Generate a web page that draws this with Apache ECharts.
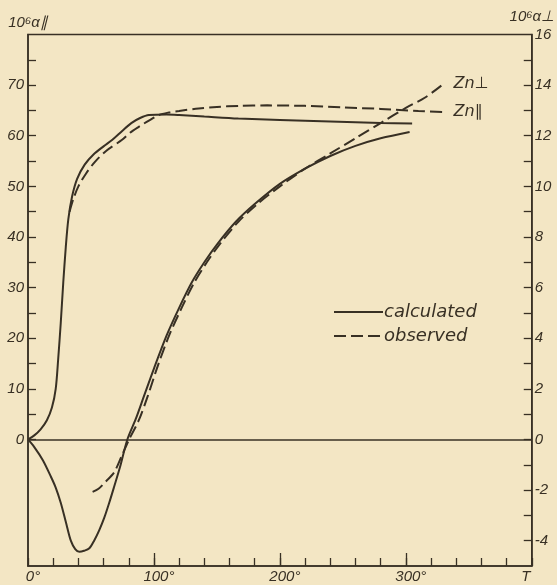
<!DOCTYPE html>
<html>
<head>
<meta charset="utf-8">
<script src="https://cdn.jsdelivr.net/npm/echarts@6/dist/echarts.min.js"></script>
<style>
html,body{margin:0;padding:0;background:#f3e6c4;}
#chart{width:557px;height:585px;}
</style>
</head>
<body>
<div id="chart"></div>
<script>
// Temperature T (degrees) and values
const parCalcT = [0, 5, 10, 15, 19, 22, 24, 26, 28, 30, 32, 35, 39, 45, 52, 60, 67, 75, 82, 89, 96, 110, 120, 140, 167, 200, 240, 280, 305];
const parCalcV = [0, 0.8, 2.0, 3.8, 6.3, 10, 16, 23, 31, 38, 43.5, 48, 51.5, 54.3, 56.3, 57.9, 59.2, 61, 62.5, 63.5, 64.1, 64.2, 64.1, 63.8, 63.4, 63.1, 62.8, 62.5, 62.4];

const parObsT = [33, 36, 40, 46, 53, 62, 74.7, 81, 88.2, 96, 104, 112, 120, 135.5, 150, 167, 190, 220, 250, 280, 310, 330];
const parObsV = [45, 47.5, 50, 52.5, 54.8, 57, 59.2, 60.6, 61.8, 63, 64.1, 64.6, 64.9, 65.4, 65.7, 65.9, 66.0, 65.9, 65.6, 65.3, 64.9, 64.7];

const perpCalcT = [0, 5, 11.8, 18, 22, 26, 30, 34, 37.5, 40.8, 44.5, 48.7, 52.5, 56.6, 60.5, 64.5, 68.5, 73, 78.9, 85.5, 92, 100, 110, 120, 130, 140, 150, 165, 180, 200, 220, 240, 260, 280, 303];
const perpCalcV = [0, -0.3, -0.82, -1.45, -1.9, -2.5, -3.25, -4.0, -4.33, -4.44, -4.4, -4.3, -4.0, -3.58, -3.1, -2.5, -1.85, -1.1, 0, 0.8, 1.7, 2.8, 4.1, 5.2, 6.2, 7.0, 7.7, 8.6, 9.3, 10.1, 10.7, 11.2, 11.6, 11.9, 12.15];

const perpObsT = [51.3, 56, 62, 68.4, 74, 80.3, 88, 95, 103, 112, 122, 132, 142, 152, 167, 182, 200, 220, 240, 260, 280, 300, 315, 330];
const perpObsV = [-2.07, -1.95, -1.65, -1.3, -0.7, 0, 0.76, 1.7, 2.9, 4.1, 5.2, 6.2, 7.0, 7.7, 8.6, 9.3, 10.0, 10.7, 11.3, 11.9, 12.5, 13.1, 13.5, 14.05];

const xLabelValues = [0, 100, 200, 300, 400];
const xMajorTicks = [100, 200, 300];
const leftLabelValues = [0, 10, 20, 30, 40, 50, 60, 70];
const leftTickValues = [0, 5, 10, 15, 20, 25, 30, 35, 40, 45, 50, 55, 60, 65, 70, 75];
const rightLabelValues = [-4, -2, 0, 2, 4, 6, 8, 10, 12, 14, 16];
const rightTickValues = [-4, -3, -2, -1, 0, 1, 2, 3, 4, 5, 6, 7, 8, 9, 10, 11, 12, 13, 14, 15];

const INK = '#383024';
const FONT = 'Liberation Sans';
const FONT2 = 'DejaVu Sans';
const zip = (a, b) => a.map((t, i) => [t, b[i]]);

const chart = echarts.init(document.getElementById('chart'), null, {renderer: 'canvas'});
const labelStyle = {color: INK, fontStyle: 'italic', fontFamily: FONT, fontSize: 15};
const richBase = {color: INK, fontStyle: 'italic', fontFamily: FONT, fontSize: 15};

chart.setOption({
  animation: false,
  backgroundColor: '#f3e6c4',
  grid: {left: 28, right: 22, top: 34.5, bottom: 19, show: true, borderColor: INK, borderWidth: 1.5, backgroundColor: 'transparent'},
  legend: {
    data: ['calculated', 'observed'],
    orient: 'vertical', left: 333, top: 303, itemWidth: 49, itemHeight: 14, itemGap: 6, padding: 0,
    itemStyle: {color: 'transparent', borderWidth: 0, opacity: 0},
    textStyle: {color: INK, fontStyle: 'italic', fontFamily: FONT2, fontSize: 18, lineHeight: 18, padding: [0, 0, 0, -4]}
  },
  xAxis: [{
    type: 'value', min: 0, max: 400, interval: 20, position: 'bottom',
    axisLine: {show: true, onZero: false, lineStyle: {color: INK, width: 1.5}},
    axisTick: {show: true, inside: true, length: 8, lineStyle: {color: INK, width: 1.3}},
    axisLabel: {
      customValues: xLabelValues, margin: 3,
      formatter: v => v === 400 ? '{t|T}' : '{d|' + v + '°}',
      rich: {d: Object.assign({padding: [0, 0, 0, 10]}, richBase), t: Object.assign({padding: [0, 12, 0, 0]}, richBase)}
    },
    splitLine: {show: false}
  }, {
    type: 'value', min: 0, max: 400, position: 'bottom',
    axisLine: {show: false, onZero: false},
    axisTick: {show: true, inside: true, length: 13, customValues: xMajorTicks, lineStyle: {color: INK, width: 1.3}},
    axisLabel: {show: false},
    splitLine: {show: false}
  }],
  yAxis: [{
    type: 'value', min: -25, max: 80, interval: 5, position: 'left',
    name: '10⁶α∥', nameLocation: 'end', nameGap: 4,
    nameTextStyle: {color: INK, fontStyle: 'italic', fontFamily: FONT, fontSize: 15},
    axisLine: {show: true, onZero: false, lineStyle: {color: INK, width: 1.5}},
    axisTick: {show: true, inside: true, length: 8, customValues: leftTickValues, lineStyle: {color: INK, width: 1.3}},
    axisLabel: Object.assign({customValues: leftLabelValues, margin: 4}, labelStyle),
    splitLine: {show: false}
  }, {
    type: 'value', min: -5, max: 16, interval: 1, position: 'right',
    name: '10⁶α⊥', nameLocation: 'end', nameGap: 10,
    nameTextStyle: {color: INK, fontStyle: 'italic', fontFamily: FONT, fontSize: 15},
    axisLine: {show: true, onZero: false, lineStyle: {color: INK, width: 1.5}},
    axisTick: {show: true, inside: true, length: 8, customValues: rightTickValues, lineStyle: {color: INK, width: 1.3}},
    axisLabel: Object.assign({customValues: rightLabelValues, margin: 3}, labelStyle),
    splitLine: {show: false}
  }],
  series: [{
    name: 'calculated', type: 'line', yAxisIndex: 0, symbol: 'none', smooth: 0.3,
    data: zip(parCalcT, parCalcV),
    lineStyle: {color: INK, width: 2}, itemStyle: {color: INK},
    markLine: {silent: true, symbol: 'none', label: {show: false}, lineStyle: {color: INK, width: 1.5, type: 'solid'}, data: [{yAxis: 0}]}
  }, {
    name: 'observed', type: 'line', yAxisIndex: 0, symbol: 'none', smooth: 0.3,
    data: zip(parObsT, parObsV),
    lineStyle: {color: INK, width: 2, type: [12, 5]}, itemStyle: {color: INK},
    endLabel: {show: true, formatter: 'Zn∥', distance: 10, color: INK, fontStyle: 'italic', fontFamily: FONT2, fontSize: 16}
  }, {
    name: 'calculated', type: 'line', yAxisIndex: 1, symbol: 'none', smooth: 0.3,
    data: zip(perpCalcT, perpCalcV),
    lineStyle: {color: INK, width: 2}, itemStyle: {color: INK}
  }, {
    name: 'observed', type: 'line', yAxisIndex: 1, symbol: 'none', smooth: 0.3,
    data: zip(perpObsT, perpObsV),
    lineStyle: {color: INK, width: 2, type: [12, 5]}, itemStyle: {color: INK},
    endLabel: {show: true, formatter: 'Zn⊥', distance: 10, color: INK, fontStyle: 'italic', fontFamily: FONT2, fontSize: 16}
  }]
});
</script>
</body>
</html>
